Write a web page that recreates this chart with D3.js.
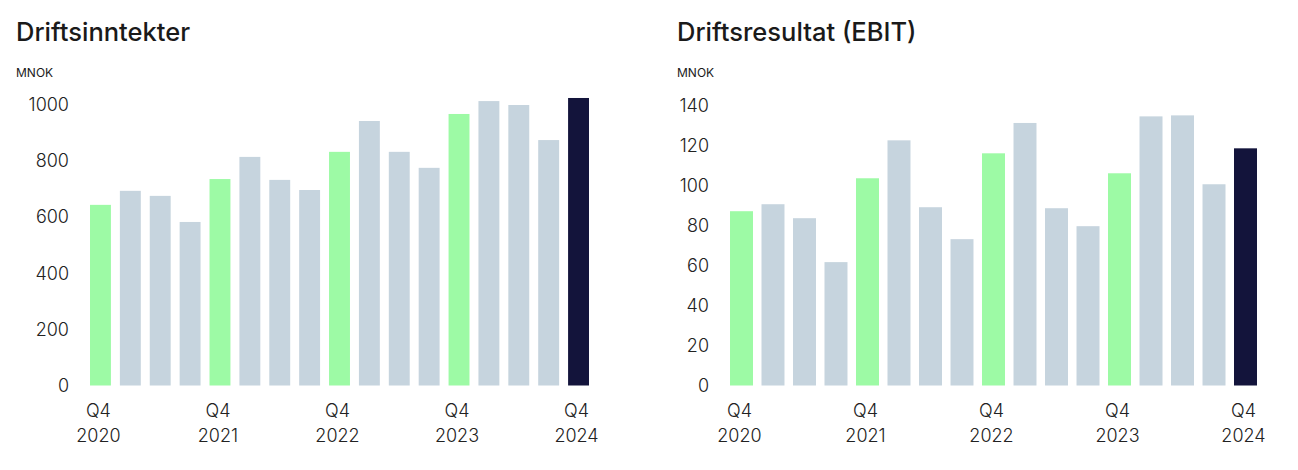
<!DOCTYPE html>
<html>
<head>
<meta charset="utf-8">
<script src="https://cdn.jsdelivr.net/npm/d3@7"></script>
<style>
  body { margin: 0; background: #fff; font-family: Inter, "Noto Sans", sans-serif; }
  svg text { font-family: Inter, "Noto Sans", sans-serif; }
</style>
</head>
<body>
<svg id="chart" width="1298" height="470"></svg>
<script>
// Quarters Q4 2020 .. Q4 2024.
const quarters = ["Q4 2020", "Q1 2021", "Q2 2021", "Q3 2021", "Q4 2021", "Q1 2022", "Q2 2022", "Q3 2022",
  "Q4 2022", "Q1 2023", "Q2 2023", "Q3 2023", "Q4 2023", "Q1 2024", "Q2 2024", "Q3 2024", "Q4 2024"];

// Driftsinntekter (MNOK).
const revenue = [644, 694, 676, 583, 736, 815, 733, 697, 833, 943, 833, 776, 968, 1014, 1000, 875, 1025];

// Driftsresultat EBIT (MNOK).
const ebit = [87.3, 90.8, 83.8, 61.8, 103.8, 122.8, 89.3, 73.3, 116.3, 131.5, 88.8, 79.8, 106.3, 134.8, 135.3, 100.8, 118.8];

const revenueTicks = [0, 200, 400, 600, 800, 1000];
const ebitTicks = [0, 20, 40, 60, 80, 100, 120, 140];
const labelled = ["Q4 2020", "Q4 2021", "Q4 2022", "Q4 2023", "Q4 2024"];

const colors = { q4: "#9dfaa5", other: "#c6d4de", last: "#13143b" };

const svg = d3.select("#chart");

/**
 * Draw one bar panel.
 */
function panel(opts) {
  const g = svg.append("g");

  g.append("text")
    .attr("x", opts.left)
    .attr("y", 41)
    .attr("font-size", 25.5)
    .attr("font-weight", 500)
    .attr("fill", "#1a1a1a")
    .text(opts.title);

  g.append("text")
    .attr("x", opts.left)
    .attr("y", 77)
    .attr("font-size", 12)
    .attr("fill", "#1a1a1a")
    .text("MNOK");

  const x = d3.scaleBand()
    .domain(quarters)
    .range(opts.xRange)
    .paddingInner(opts.pad)
    .paddingOuter(0);

  const y = d3.scaleLinear()
    .domain([0, opts.max])
    .range([385.5, opts.top]);

  // Y axis labels, no lines.
  const yAxis = g.append("g")
    .attr("transform", `translate(${opts.labelX},0)`)
    .call(d3.axisLeft(y).tickValues(opts.ticks).tickFormat(d3.format("d")).tickSize(0).tickPadding(0));
  yAxis.select(".domain").remove();
  yAxis.selectAll("text")
    .attr("font-size", 18)
    .attr("font-weight", 300)
    .attr("fill", "#222");

  // Bars.
  g.append("g")
    .selectAll("rect")
    .data(opts.values)
    .join("rect")
      .attr("x", (d, i) => x(quarters[i]))
      .attr("y", d => y(d))
      .attr("width", x.bandwidth())
      .attr("height", d => y(0) - y(d))
      .attr("fill", (d, i) => i === quarters.length - 1 ? colors.last
        : (quarters[i].startsWith("Q4") ? colors.q4 : colors.other));

  // X labels, two lines.
  const xl = g.append("g")
    .selectAll("text")
    .data(labelled)
    .join("text")
      .attr("x", d => x(d) + x.bandwidth() / 2 - 2)
      .attr("text-anchor", "middle")
      .attr("font-size", 18)
      .attr("font-weight", 300)
      .attr("fill", "#222");
  xl.append("tspan").attr("y", 417).text(d => d.split(" ")[0]);
  xl.append("tspan").attr("x", d => x(d) + x.bandwidth() / 2 - 2).attr("y", 442).text(d => d.split(" ")[1]);
}

panel({ title: "Driftsinntekter", left: 16, xRange: [90, 589], pad: 0.3,
  max: 1000, top: 105, ticks: revenueTicks, values: revenue, labelX: 69 });

panel({ title: "Driftsresultat (EBIT)", left: 677, xRange: [730, 1257], pad: 0.27,
  max: 140, top: 106, ticks: ebitTicks, values: ebit, labelX: 709 });
</script>
</body>
</html>
